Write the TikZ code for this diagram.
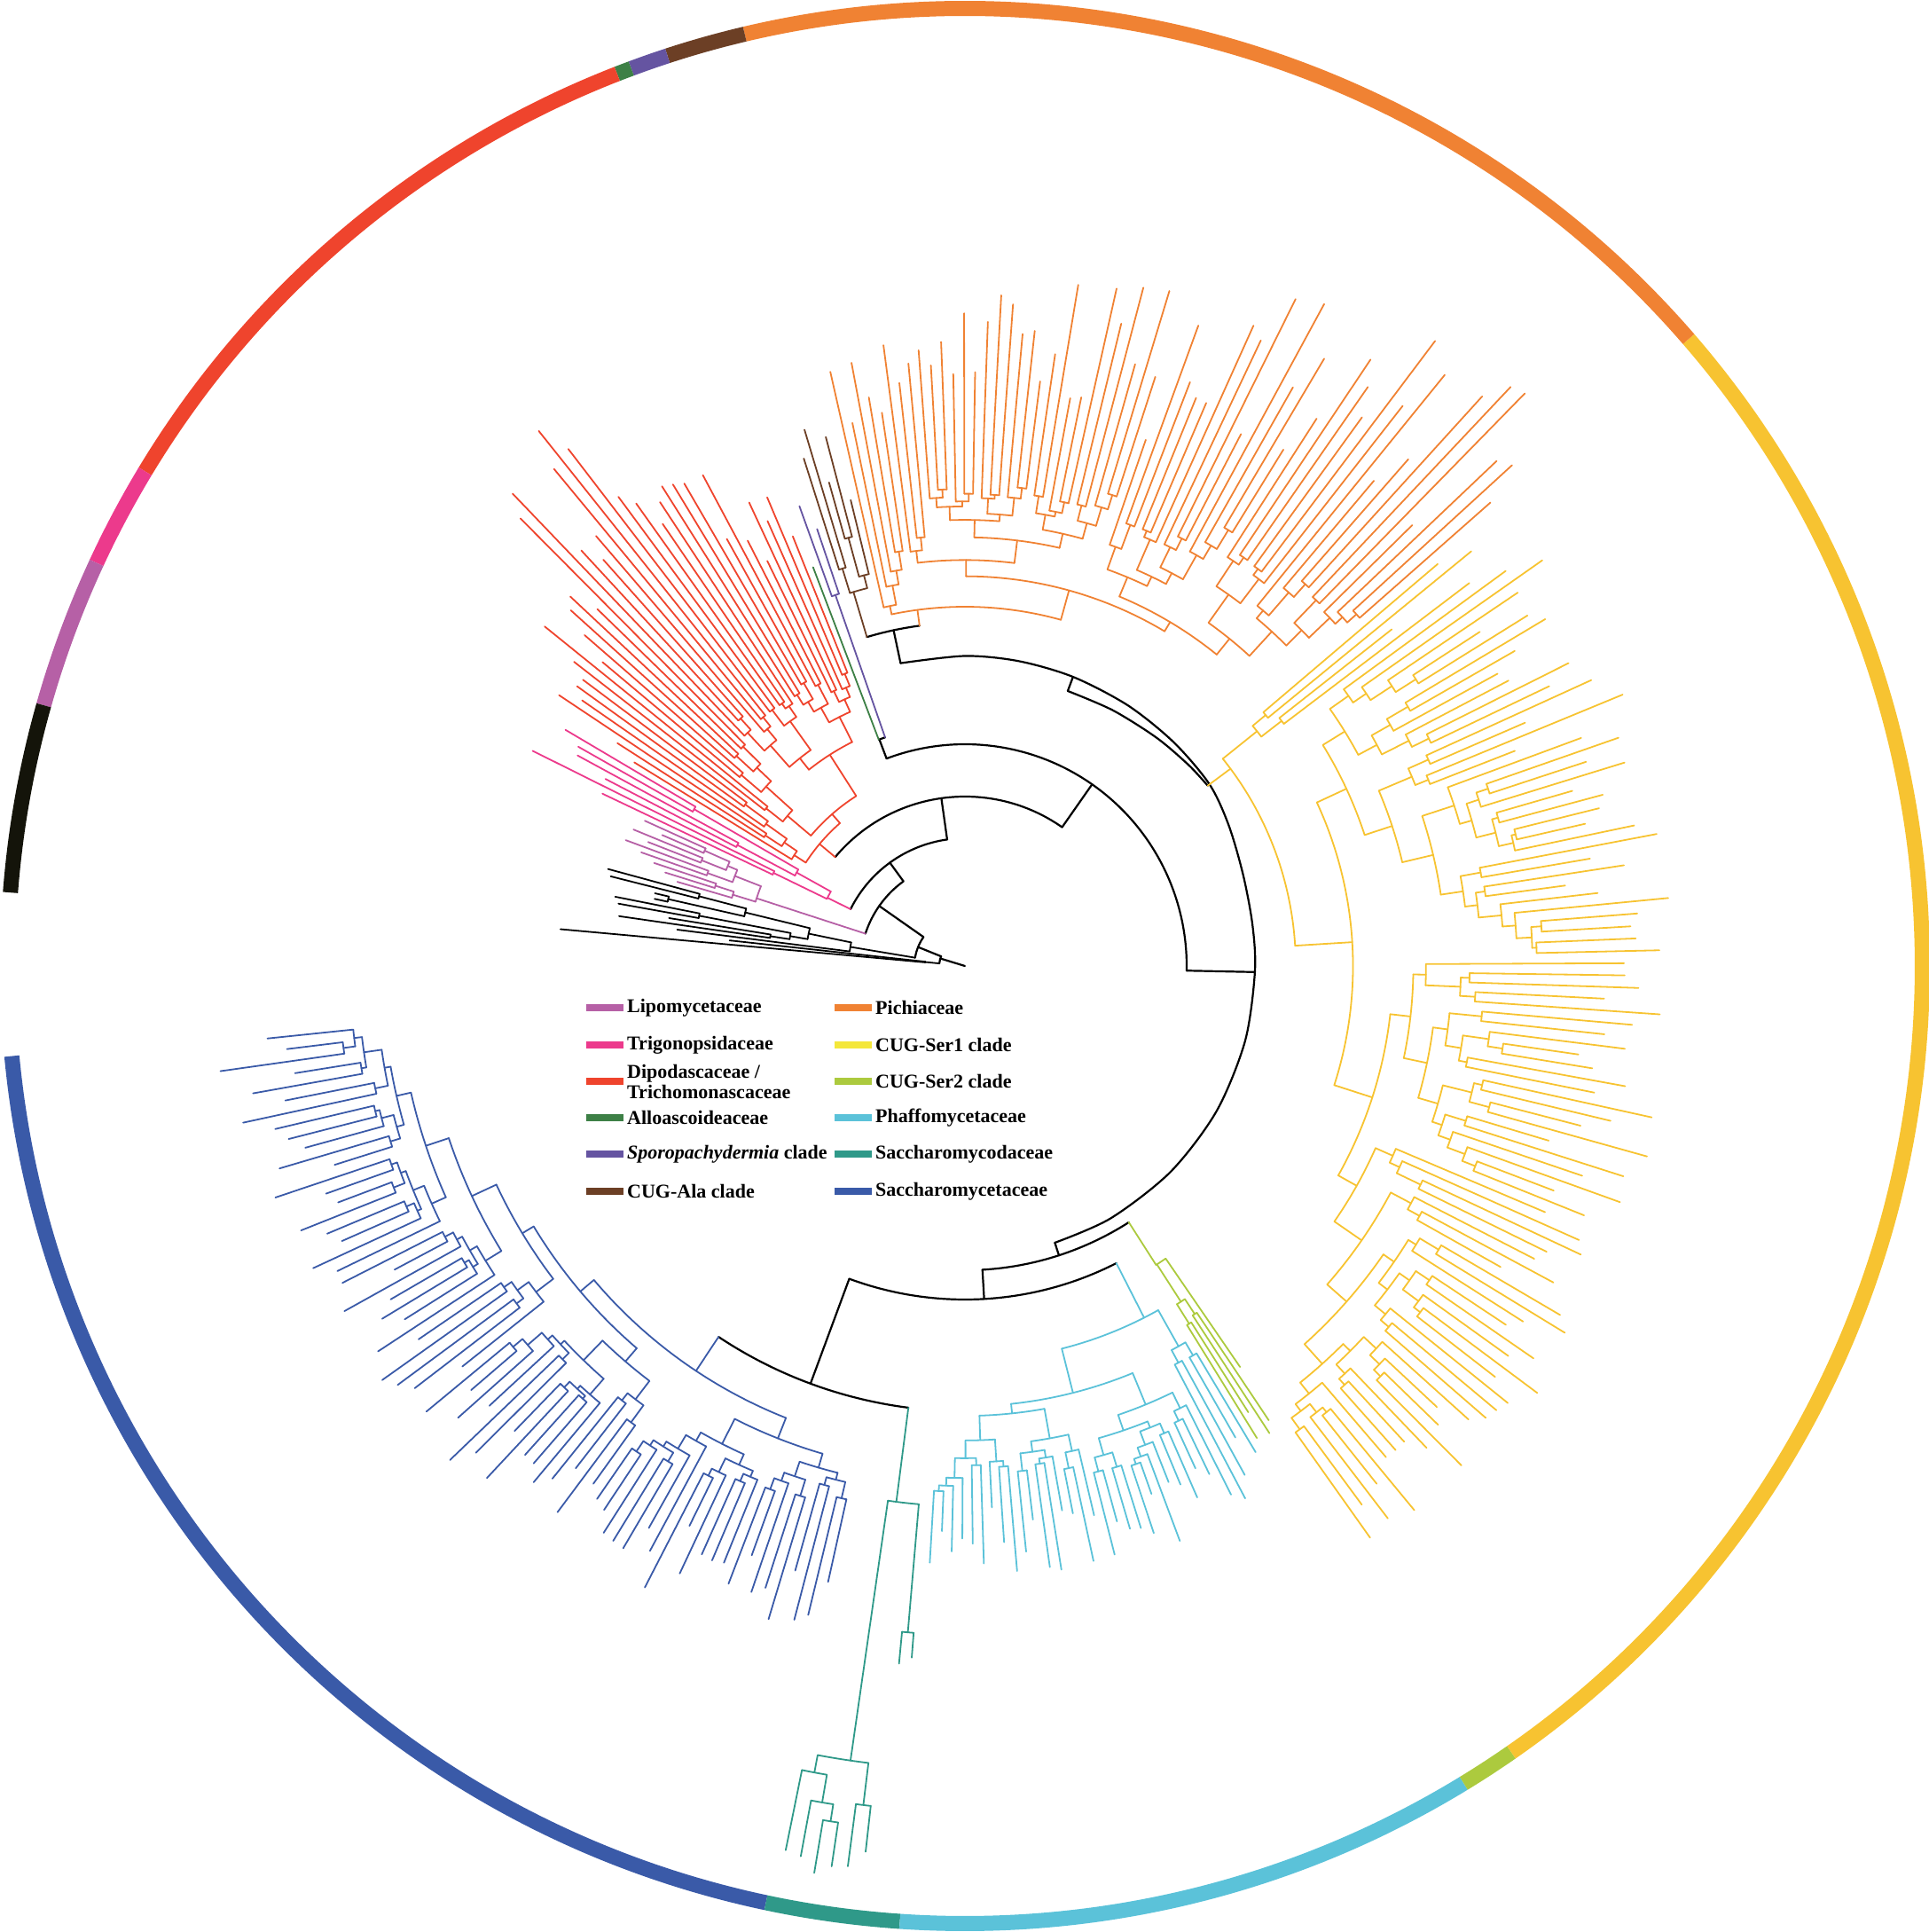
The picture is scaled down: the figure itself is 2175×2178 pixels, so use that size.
\documentclass[tikz,border=0pt]{standalone}
\usepackage{fontspec}
\setmainfont{Liberation Serif}

\definecolor{outg}{RGB}{20,20,10}
\definecolor{lipo}{RGB}{182,96,166}
\definecolor{trigo}{RGB}{236,58,140}
\definecolor{dipo}{RGB}{239,68,45}
\definecolor{allo}{RGB}{61,128,70}
\definecolor{sporo}{RGB}{101,84,161}
\definecolor{cugala}{RGB}{108,63,37}
\definecolor{pich}{RGB}{240,130,51}
\definecolor{serone}{RGB}{247,195,49}
\definecolor{seroneleg}{RGB}{244,231,58}
\definecolor{sertwo}{RGB}{172,202,62}
\definecolor{phaff}{RGB}{91,194,217}
\definecolor{sccd}{RGB}{47,153,137}
\definecolor{scct}{RGB}{58,90,168}

% arc at radius #3 from angle #1 to angle #2
\def\barc#1#2#3{\draw (#1:#3) arc[start angle=#1, end angle=#2, radius=#3];}

% subtree parameters: node cap, tip cap, node step, leaf length, split
\def\setpar#1#2#3#4#5#6#7#8{\def\prcap{#1}\def\ptcap{#2}\def\pfa{#3}\def\pfb{#4}%
  \def\pla{#5}\def\plb{#6}\def\pua{#7}\def\pub{#8}}

% subtree: first leaf angle, angle step, leaves, parent radius
\def\clade#1#2#3#4{%
  \begingroup
  \edef\qa{#1}\edef\qd{#2}\edef\qn{#3}\edef\qp{#4}%
  \ifnum\qn<2\relax
    \pgfmathsetmacro\qt{\qp+(\ptcap-\qp)*(\pla+\plb*rnd)}%
    \draw (\qa:\qp) -- (\qa:\qt);
    \xdef\cladeang{\qa}%
  \else
    \pgfmathsetmacro\qr{\qp+(\prcap-\qp)*(\pfa+\pfb*rnd)}%
    \pgfmathtruncatemacro\qna{max(1,min(\qn-1,round(\qn*(\pua+\pub*rnd))))}%
    \pgfmathtruncatemacro\qnb{\qn-\qna}%
    \pgfmathsetmacro\qb{\qa+\qna*\qd}%
    \clade{\qa}{\qd}{\qna}{\qr}\let\angA\cladeang
    \clade{\qb}{\qd}{\qnb}{\qr}\let\angB\cladeang
    \pgfmathsetmacro\qm{(\angA+\angB)/2}%
    \draw (\angA:\qr) arc[start angle=\angA, end angle=\angB, radius=\qr];
    \draw (\qm:\qp) -- (\qm:\qr);
    \xdef\cladeang{\qm}%
  \fi
  \endgroup}

% clade root: first leaf angle, step, leaves, leaves of first child,
% parent radius, node radius, stem angle
\def\cladetop#1#2#3#4#5#6#7{%
  \begingroup
  \edef\qa{#1}\edef\qd{#2}\edef\qn{#3}\edef\qna{#4}%
  \edef\qp{#5}\edef\qr{#6}\edef\qs{#7}%
  \pgfmathtruncatemacro\qnb{\qn-\qna}%
  \pgfmathsetmacro\qb{\qa+\qna*\qd}%
  \clade{\qa}{\qd}{\qna}{\qr}\let\angA\cladeang
  \clade{\qb}{\qd}{\qnb}{\qr}\let\angB\cladeang
  \pgfmathsetmacro\qlo{min(\angA,\angB,\qs)}%
  \pgfmathsetmacro\qhi{max(\angA,\angB,\qs)}%
  \draw (\qlo:\qr) arc[start angle=\qlo, end angle=\qhi, radius=\qr];
  \draw (\qs:\qp) -- (\qs:\qr);
  \endgroup}

\begin{document}
\begin{tikzpicture}[x=1pt, y=1pt, line join=round, line cap=round,
    bb/.style={line width=2.2pt, draw=black},
    br/.style={line width=1.8pt},
    ringseg/.style={line width=17pt, line cap=butt},
    legbar/.style={line width=8pt, line cap=butt},
    legtext/.style={anchor=west, inner sep=0pt, text=black, align=left,
      font=\fontsize{22}{23}\selectfont\bfseries}]
\useasboundingbox (-1088,-1089) rectangle (1087,1089);

% outer ring
\foreach \aa/\ab/\col in {-174.6/-102/scct, -102/-93.9/sccd, -93.9/-58.6/phaff,
    -58.6/-55.2/sertwo, -55.2/40.9/serone, 40.9/103.3/pich, 103.3/108.1/cugala,
    108.1/110.4/sporo, 110.4/111.3/allo, 111.3/148.9/dipo, 148.9/155.1/trigo,
    155.1/164.2/lipo, 164.2/175.6/outg}
  \draw[ringseg, draw=\col] (\aa:1079.5) arc[start angle=\aa, end angle=\ab, radius=1079.5];

% backbone
\begin{scope}[bb]
\draw (0,0) -- (163:29);
\barc{174.3}{158}{29}
\draw (158:29) -- (158:57);
\barc{170.55}{145}{57}
\draw (145:57) -- (145:118);
\barc{162}{126}{118}
\draw (126:118) -- (126:144);
\barc{153.6}{98}{144}
\draw (98:144) -- (98:191);
\barc{140}{55}{191}
\draw (55:191) -- (55:250);
\barc{110.7}{-1.2}{250}
\draw (-1.2:250) -- (-1.2:327);
\draw plot[smooth] coordinates {(102:349) (90:349.5) (80:349) (69.5:348) (58:346.5)
  (47:345) (36.6:343.5) (28:337) (18:330) (8:327.5) (-1.2:327) (-15:327)
  (-30:327.5) (-45:328) (-60:328.5) (-72:328)};
\draw (102:349) -- (102:387);
\barc{106.6}{97.6}{387}
\draw (69.5:348) -- (69.5:331);
\draw plot[smooth] coordinates {(69.5:331) (60:333) (50:336) (42:339) (36.6:341)};
\draw (-72:328) -- (-72:343);
\barc{-86.7}{-57.4}{343}
\draw (-86.7:343) -- (-86.7:376);
\barc{-110.3}{-63}{376}
\draw (-110.3:376) -- (-110.3:502);
\barc{-123.6}{-97.3}{502}
\draw (110.7:250) -- (110.7:273);
\barc{110.85}{109.25}{273}
\end{scope}

% outgroups
\begin{scope}[br, draw=black]
\draw (174.3:29) -- (174.3:45);
\barc{173.8}{174.8}{45}
\draw (173.8:45) -- (173.8:267);
\draw (174.8:45) -- (174.8:458);
\draw (170.55:57) -- (170.55:131);
\barc{168.3}{172.8}{131}
\draw (172.8:131) -- (172.8:327);
\draw (168.3:131) -- (168.3:180);
\barc{166.3}{170.3}{180}
\draw (166.3:180) -- (166.3:255);
\barc{165.3}{167.3}{255}
\draw (165.3:255) -- (165.3:310);
\barc{164.8}{165.8}{310}
\draw (164.8:310) -- (164.8:417);
\draw (165.8:310) -- (165.8:412);
\draw (167.3:255) -- (167.3:343);
\barc{166.8}{167.8}{343}
\draw (166.8:343) -- (166.8:359);
\draw (167.8:343) -- (167.8:358);
\draw (170.3:180) -- (170.3:200);
\barc{169.3}{171.3}{200}
\draw (169.3:200) -- (169.3:305);
\barc{168.8}{169.8}{305}
\draw (168.8:305) -- (168.8:402);
\draw (169.8:305) -- (169.8:397);
\draw (171.3:200) -- (171.3:222);
\barc{170.8}{171.8}{222}
\draw (170.8:222) -- (170.8:338);
\draw (171.8:222) -- (171.8:394);
\end{scope}

% Lipomycetaceae
\begin{scope}[br, draw=lipo]
\setpar{370}{415}{0.1}{0.3}{0.4}{0.55}{0.2}{0.5}\pgfmathsetseed{2}
\cladetop{163.69}{-1.011}{9}{3}{118}{247}{162}
\end{scope}

% Trigonopsidaceae
\begin{scope}[br, draw=trigo]
\setpar{520}{560}{0.1}{0.35}{0.55}{0.45}{0.2}{0.5}\pgfmathsetseed{9}
\cladetop{154.58}{-1.033}{6}{2}{144}{173}{153.6}
\end{scope}

% Dipodascaceae / Trichomonascaceae, longest leaves near 129 degrees
\begin{scope}[br, draw=dipo]
\setpar{(500-5*abs(\qa-129))}{(830-14*abs(\qa-129))}{0.05}{0.18}{0.5}{0.45}{0.15}{0.5}\pgfmathsetseed{6}
\cladetop{148.38}{-1.044}{36}{6}{191}{214}{140}
\end{scope}

% Alloascoideaceae, Sporopachydermia
\draw[br, allo] (110.85:273) -- (110.85:481);
\begin{scope}[br, draw=sporo]
\draw (109.25:273) -- (109.25:443);
\barc{109.8}{108.7}{443}
\draw (109.8:443) -- (109.8:551);
\draw (108.7:443) -- (108.7:520);
\end{scope}

% CUG-Ala clade
\begin{scope}[br, draw=cugala]
\setpar{580}{650}{0.1}{0.3}{0.4}{0.55}{0.2}{0.5}\pgfmathsetseed{12}
\cladetop{107.62}{-0.96}{5}{2}{387}{440}{106.6}
\end{scope}

% Pichiaceae, tips reach further on the right
\begin{scope}[br, draw=pich]
\setpar{(560+3*(100-\qa))}{(720+4*(100-\qa))}{0.05}{0.17}{0.35}{0.6}{0.12}{0.45}\pgfmathsetseed{3}
\cladetop{102.77}{-1.058}{59}{5}{387}{405}{97.6}
\end{scope}

% CUG-Ser1 clade
\begin{scope}[br, draw=serone]
\setpar{(690+max(0,-20-\qa))}{(815+0.6*max(0,-20-\qa))}{0.06}{0.2}{0.4}{0.55}{0.12}{0.45}\pgfmathsetseed{5}
\cladetop{40.37}{-1.056}{91}{4}{341}{373}{36.6}
\end{scope}

% CUG-Ser2 clade
\begin{scope}[br, draw=sertwo]
\setpar{560}{640}{0.15}{0.3}{0.6}{0.35}{0.2}{0.5}\pgfmathsetseed{13}
\cladetop{-55.54}{-0.68}{5}{1}{343}{400}{-57.4}
\end{scope}

% Phaffomycetaceae
\begin{scope}[br, draw=phaff]
\setpar{630}{700}{0.08}{0.22}{0.35}{0.6}{0.15}{0.5}\pgfmathsetseed{4}
\cladetop{-59.12}{-1.038}{34}{4}{376}{445}{-63}
\end{scope}

% Saccharomycodaceae
\begin{scope}[br, draw=sccd]
\draw (-97.3:502) -- (-97.3:609);
\barc{-94.9}{-98.2}{609}
\draw (-94.9:609) -- (-94.9:754);
\barc{-94.4}{-95.4}{754}
\draw (-94.4:754) -- (-94.4:782);
\draw (-95.4:754) -- (-95.4:790);
\setpar{1010}{1060}{0.15}{0.35}{0.4}{0.55}{0.25}{0.5}\pgfmathsetseed{7}
\cladetop{-96.4}{-1.0125}{6}{2}{609}{905}{-98.2}
\end{scope}

% Saccharomycetaceae, tips reach further on the left
\begin{scope}[br, draw=scct]
\setpar{(690+0.8*(-102-\qa))}{(780+1.1*(-102-\qa))}{0.06}{0.2}{0.35}{0.6}{0.12}{0.45}\pgfmathsetseed{8}
\cladetop{-102.53}{-1.052}{69}{22}{502}{548}{-123.6}
\end{scope}

% legend
\draw[legbar, lipo] (-427,-47) -- (-385,-47);
\node[legtext] (leglipo) at (-381,-47) {Lipomycetaceae};
\draw[legbar, trigo] (-427,-89) -- (-385,-89);
\node[legtext] (legtrigo) at (-381,-89) {Trigonopsidaceae};
\draw[legbar, dipo] (-427,-130) -- (-385,-130);
\node[legtext] (legdipo) at (-381,-130) {Dipodascaceae /\\Trichomonascaceae};
\draw[legbar, allo] (-427,-171) -- (-385,-171);
\node[legtext] (legallo) at (-381,-171) {Alloascoideaceae};
\draw[legbar, sporo] (-427,-212) -- (-385,-212);
\node[legtext] (legsporo) at (-381,-212) {\textit{Sporopachydermia} clade};
\draw[legbar, cugala] (-427,-254) -- (-385,-254);
\node[legtext] (legala) at (-381,-254) {CUG-Ala clade};

\draw[legbar, pich] (-147,-47) -- (-105,-47);
\node[legtext] (legpich) at (-101,-47) {Pichiaceae};
\draw[legbar, seroneleg] (-147,-89) -- (-105,-89);
\node[legtext] (legserone) at (-101,-89) {CUG-Ser1 clade};
\draw[legbar, sertwo] (-147,-130) -- (-105,-130);
\node[legtext] (legsertwo) at (-101,-130) {CUG-Ser2 clade};
\draw[legbar, phaff] (-147,-171) -- (-105,-171);
\node[legtext] (legphaff) at (-101,-171) {Phaffomycetaceae};
\draw[legbar, sccd] (-147,-212) -- (-105,-212);
\node[legtext] (legsccd) at (-101,-212) {Saccharomycodaceae};
\draw[legbar, scct] (-147,-254) -- (-105,-254);
\node[legtext] (legscct) at (-101,-254) {Saccharomycetaceae};
\end{tikzpicture}
\end{document}
